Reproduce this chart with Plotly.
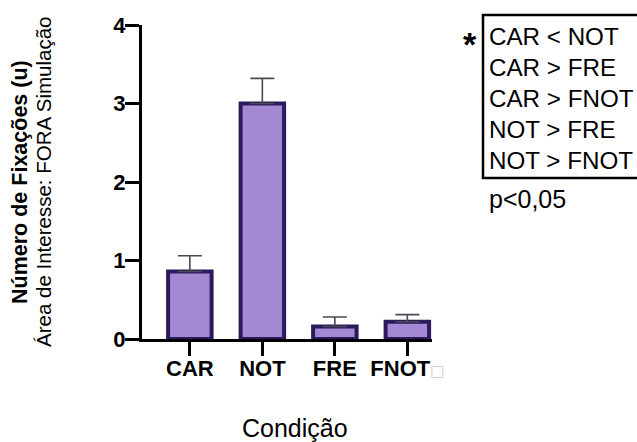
import plotly.graph_objects as go

categories = ["CAR", "NOT", "FRE", "FNOT"]
tick_labels = ["CAR", "NOT", "FRE",
               "FNOT<span style='color:#c8c8c8;font-weight:normal;font-size:15px;font-family:DejaVu Sans'>\u25a1</span>"]
means = [0.86, 3.0, 0.16, 0.22]
sem = [0.20, 0.32, 0.12, 0.09]
y_ticks = [0, 1, 2, 3, 4]
comparisons = ["CAR < NOT", "CAR > FRE", "CAR > FNOT", "NOT > FRE", "NOT > FNOT"]
p_text = "p<0,05"

FONT = "Liberation Sans, Arial, Helvetica, sans-serif"
W, H = 637, 442
L, R, T, B = 142, 205, 25, 103
pw = W - L - R

def px_x(p):
    return (p - L) / pw

def px_y(p):
    return 1 - (p - T) / (H - T - B)

fig = go.Figure()
fig.add_trace(go.Bar(
    x=list(range(len(categories))), y=means, width=0.6,
    marker=dict(color="#A588D4", line=dict(color="#2C1A5C", width=4)),
    error_y=dict(type="data", array=sem, arrayminus=[0] * len(sem), symmetric=False,
                 color="#4a4a55", thickness=1.6, width=12),
    showlegend=False, hoverinfo="skip",
))

fig.update_layout(
    width=W, height=H,
    margin=dict(l=L, r=R, t=T, b=B),
    plot_bgcolor="white", paper_bgcolor="white",
    font=dict(family=FONT, color="black"),
)
fig.update_xaxes(
    range=[-0.66, 3.34], tickmode="array", tickvals=list(range(len(categories))),
    ticktext=tick_labels, showline=True, linecolor="black", linewidth=3,
    ticks="outside", ticklen=14, tickwidth=3, tickcolor="black", ticklabelstandoff=-6,
    tickfont=dict(size=22, weight="bold", family=FONT), showgrid=False, zeroline=False,
)
fig.update_yaxes(
    range=[0, 4], tickmode="array", tickvals=y_ticks, ticktext=[str(v) for v in y_ticks],
    showline=True, linecolor="black", linewidth=3,
    ticks="outside", ticklen=14, tickwidth=3, tickcolor="black", ticklabelstandoff=-5,
    tickfont=dict(size=22, weight="bold", family=FONT), showgrid=False, zeroline=False,
)

ann = []
ann.append(dict(text="Número de Fixações (u)", textangle=-90, x=px_x(20), y=px_y(182),
                xref="paper", yref="paper", showarrow=False, xanchor="center", yanchor="middle",
                font=dict(size=21.5, weight="bold", family=FONT)))
ann.append(dict(text="Área de Interesse: FORA Simulação", textangle=-90, x=px_x(43), y=px_y(182),
                xref="paper", yref="paper", showarrow=False, xanchor="center", yanchor="middle",
                font=dict(size=20.5, family=FONT)))
ann.append(dict(text="Condição", x=px_x(295), y=px_y(428), xref="paper", yref="paper",
                showarrow=False, xanchor="center", yanchor="middle", font=dict(size=25, family=FONT)))
for i, c in enumerate(comparisons):
    ann.append(dict(text=c, x=px_x(487), y=px_y(36 + 31.2 * i), xref="paper", yref="paper",
                    showarrow=False, xanchor="left", yanchor="middle", font=dict(size=24.2, family=FONT)))
ann.append(dict(text="*", x=px_x(470), y=px_y(44), xref="paper", yref="paper",
                showarrow=False, xanchor="center", yanchor="middle",
                font=dict(size=34, weight="bold", family=FONT)))
ann.append(dict(text=p_text, x=px_x(487), y=px_y(199), xref="paper", yref="paper",
                showarrow=False, xanchor="left", yanchor="middle", font=dict(size=25, family=FONT)))
fig.update_layout(annotations=ann)

fig.add_shape(type="rect", xref="paper", yref="paper",
              x0=px_x(483), x1=px_x(660), y0=px_y(178), y1=px_y(15),
              line=dict(color="black", width=2.5), fillcolor="rgba(0,0,0,0)")

fig.write_html("out.html", config={"displayModeBar": False, "staticPlot": True},
               post_script="document.body.style.margin='0';document.body.style.overflow='hidden';")
